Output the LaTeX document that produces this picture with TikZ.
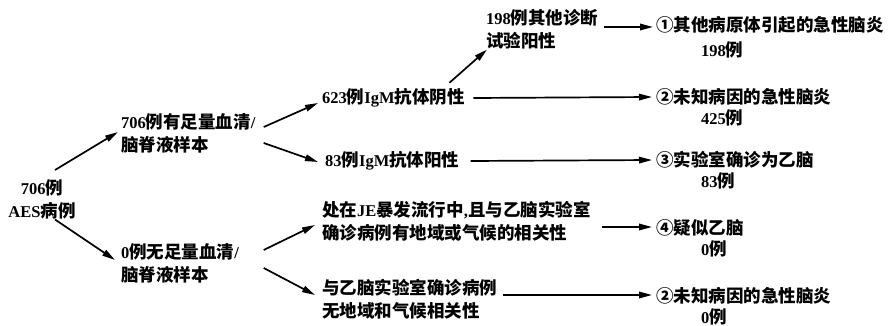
\documentclass[tikz,border=0pt]{standalone}
\usepackage{fontspec}
\setmainfont{Noto Sans CJK SC}
\newfontfamily\latin{Liberation Serif}
\usetikzlibrary{arrows.meta,calc}
\newcommand\lt[1]{{\latin\bfseries\fontsize{16.5}{23}\selectfont #1}}
\begin{document}
\begin{tikzpicture}[x=1pt,y=-1pt,
  font=\fontsize{17.5}{23}\selectfont\bfseries,
  txt/.style={inner sep=0pt, anchor=west, align=left},
  res/.style={inner sep=0pt, anchor=west, align=left},
  arr/.style={line width=1.7pt, -{Triangle[length=13pt,width=6.5pt]}}]
\useasboundingbox (0,0) rectangle (889,326);
% nodes
\node[inner sep=0pt, align=center] (root) at (42,199.5) {\lt{706}例\\\lt{AES}病例};
\node[txt] (a) at (121,133.5) {\lt{706}例有足量血清\lt{/}\\脑脊液样本};
\node[txt] (b) at (121,263.5) {\lt{0}例无足量血清\lt{/}\\脑脊液样本};
\node[txt] (c) at (322,98) {\lt{623}例\lt{IgM}抗体阴性};
\node[txt] (d) at (325,161) {\lt{83}例\lt{IgM}抗体阳性};
\node[txt] (e) at (486,29.5) {\lt{198}例其他诊断\\试验阳性};
\node[txt] (f) at (322,221.5) {处在\lt{JE}暴发流行中\lt{,}且与乙脑实验室\\确诊病例有地域或气候的相关性};
\node[txt] (g) at (322,299.5) {与乙脑实验室确诊病例\\无地域和气候相关性};
\node[res] (r1) at (656,37.5) {①其他病原体引起的急性脑炎\\[2pt]\hspace*{45pt}\lt{198}例};
\node[res] (r2) at (656,107.5) {②未知病因的急性脑炎\\[-2pt]\hspace*{45pt}\lt{425}例};
\node[res] (r3) at (656,170.5) {③实验室确诊为乙脑\\[-2pt]\hspace*{45pt}\lt{83}例};
\node[res] (r4) at (656,238.5) {④疑似乙脑\\[-2pt]\hspace*{45pt}\lt{0}例};
\node[res] (r5) at (656,306) {②未知病因的急性脑炎\\[-2pt]\hspace*{45pt}\lt{0}例};
% connectors
\draw[arr] ([shift={(13,-9.5)}]root.north) -- ([shift={(-3,-1.5)}]a.west);
\draw[arr] ([shift={(13,0)}]root.south) -- ([shift={(-6,-3.5)}]b.west);
\draw[arr] ([shift={(8,-6.5)}]a.east) -- ([shift={(-4,5)}]c.west);
\draw[arr] ([shift={(8,9.5)}]a.east) -- ([shift={(-7,1)}]d.west);
\draw[arr] ($(b.east -| a.east)+(8,-13.5)$) -- ([shift={(-7,3.5)}]f.west);
\draw[arr] ($(b.east -| a.east)+(8,4.5)$) -- ([shift={(-7,-4.5)}]g.west);
\draw[arr] ([shift={(-15.5,-5.6)}]c.north east) -- ([shift={(1,0)}]e.south west);
\draw[arr] ([shift={(5,-2.5)}]e.east) -- ([shift={(-3,-10.5)}]r1.west);
\draw[arr] ([shift={(8.5,0)}]c.east) -- ([shift={(-4,-10.5)}]r2.west);
\draw[arr] ([shift={(11,0)}]d.east) -- ([shift={(-4,-10.5)}]r3.west);
\draw[arr] ([shift={(11.5,5.5)}]f.east) -- ([shift={(-4,-11.5)}]r4.west);
\draw[arr] ([shift={(6,-4.5)}]g.east) -- ([shift={(-4,-11)}]r5.west);
\end{tikzpicture}
\end{document}
